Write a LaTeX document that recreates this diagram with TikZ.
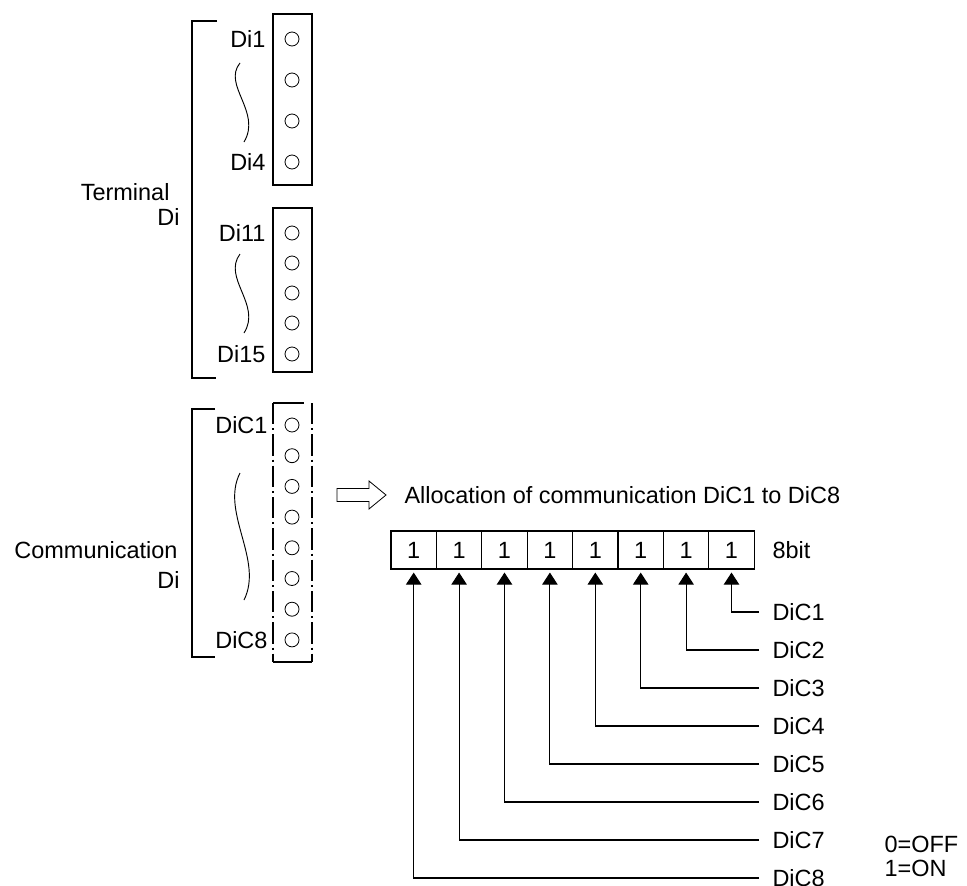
\documentclass[tikz,border=0pt]{standalone}
\usepackage{fontspec}
\setmainfont{Liberation Sans}
\usetikzlibrary{arrows.meta,calc}
\begin{document}
\begin{tikzpicture}[x=0.75pt,y=-0.75pt,line width=0.8pt,
  txt/.style={inner sep=0pt,font=\fontsize{17.6}{20}\selectfont},
  pin/.style={circle,draw,minimum size=10.5pt,inner sep=0pt,line width=0.6pt},
  cell/.style={draw,minimum width=34.05pt,minimum height=28.5pt,inner sep=0pt,font=\fontsize{17.6}{20}\selectfont},
  wave/.style={line width=0.7pt},
  bitarrow/.style={-{Triangle[length=9pt,width=11.5pt]}},
  dashdot/.style={dash pattern=on 16pt off 3pt on 1.5pt off 3pt}]
\useasboundingbox (0,0) rectangle (967,885);

% ---- Terminal Di, block 1
\draw (273,14) rectangle (312,185);
\foreach \y/\n in {39/a1,80/a2,121/a3,162/a4} \node[pin] (\n) at (292,\y) {};
\node[txt,anchor=east] (di1) at (266,39) {Di1};
\node[txt,anchor=east] (di4) at (266,162) {Di4};
\draw[wave] (240,63) .. controls (222,85) and (262,112) .. (244,142);

% ---- block 2
\draw (273,208) rectangle (312,372);
\foreach \y/\n in {233/b1,263/b2,293/b3,323/b4,354/b5} \node[pin] (\n) at (292,\y) {};
\node[txt,anchor=east] (di11) at (266,233) {Di11};
\node[txt,anchor=east] (di15) at (266,354) {Di15};
\draw[wave] (240,254) .. controls (222,278) and (262,305) .. (244,333);

% bracket
\draw (217,21) -- (192,21) -- (192,378) -- (216,378);
\node[txt,anchor=east] (term) at (170,192) {Terminal};
\node[txt,anchor=east] (termdi) at (180,217) {Di};

% ---- Communication Di
\draw (273,403) -- (304,403);
\draw[dashdot] (273,403) -- (273,662);
\draw[dashdot] (312,403) -- (312,662);
\draw (273,662) -- (312,662);
\foreach \k in {0,...,7} \node[pin] (p\k) at (292,{425+30.7*\k}) {};
\node[txt,anchor=east] (dic1) at (268,425) {DiC1};
\node[txt,anchor=east] (dic8) at (268,640) {DiC8};
\draw[wave] (240,473) .. controls (220,512) and (264,560) .. (244,600);
\draw (215,409) -- (192,409) -- (192,657) -- (215,657);
\node[txt,anchor=east] (comm) at (178,550) {Communication};
\node[txt,anchor=east] (commdi) at (180,580) {Di};

% ---- hollow arrow
\draw[line width=0.6pt] (337,488.5) -- (369,488.5) -- (369,481) -- (386,495) -- (369,509) -- (369,501.5) -- (337,501.5) -- cycle;
\node[txt,anchor=west] (alloc) at (404,495) {Allocation of communication DiC1 to DiC8};

% ---- bits
\foreach \k in {1,...,8} \node[cell] (c\k) at ({391+45.4*(\k-0.5)},550) {1};
\node[txt,anchor=west] (bits) at (772,550) {8bit};
\foreach \i in {1,...,8} \node[txt,anchor=west] (d\i) at (772,{612+38*(\i-1)}) {DiC\i};
\foreach \i [evaluate=\i as \k using int(9-\i)] in {1,...,8}
  \draw[bitarrow] ([xshift=-9.75pt]d\i.west) -| ([yshift=-2.25pt]c\k.south);

\node[txt,anchor=west] (off) at (884,844) {0=OFF};
\node[txt,anchor=west] (on) at (884,868) {1=ON};
\end{tikzpicture}
\end{document}
